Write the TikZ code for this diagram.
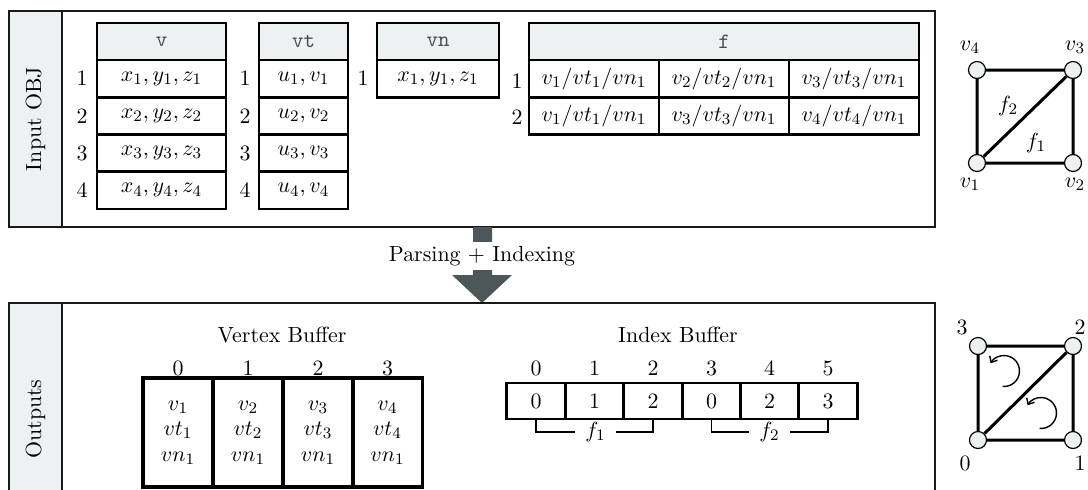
\documentclass[tikz,border=0pt]{standalone}
\usetikzlibrary{arrows.meta,calc}
\definecolor{hdrgray}{RGB}{238,241,242}
\definecolor{arrgray}{RGB}{77,86,88}
\newcommand\mainfs{\fontsize{10.95}{13}\selectfont}
\begin{document}
\begin{tikzpicture}[x=0.5pt,y=-0.5pt,
  every node/.style={font=\mainfs},
  panel/.style={draw=black!90, line width=1pt},
  side/.style={panel, fill=hdrgray},
  hdr/.style={draw, fill=hdrgray, line width=1.35pt, inner sep=0, minimum height=18.5pt, font=\mainfs\ttfamily, text=black!70},
  cell/.style={draw, line width=1.35pt, inner sep=0, minimum height=18.625pt},
  num/.style={inner sep=0},
  vb/.style={draw, line width=1.6pt, inner sep=0, minimum width=35pt, minimum height=54.5pt, align=center, font=\fontsize{10.95}{12.75}\selectfont},
  ib/.style={draw, line width=1.45pt, inner sep=0, minimum width=29.17pt, minimum height=18pt},
  mv/.style={circle, draw, fill=hdrgray, line width=0.6pt, minimum size=8.5pt, inner sep=0},
  medge/.style={line width=1.5pt},
  brk/.style={line width=0.8pt},
  rot/.style={line width=0.7pt, -{Straight Barb[length=2.5pt,width=4.5pt]}}
]
\clip (0,0) rectangle (1088,489);
% ---------- top panel ----------
\draw[side] (9,11) rectangle (62,227);
\draw[panel] (9,11) rectangle (935,227);
\node[rotate=90] (lblIn) at (35.5,119) {Input OBJ};
% headers
\node[hdr, minimum width=64.5pt] (vh) at (161.5,41.5) {v};
\node[hdr, minimum width=44.5pt] (vth) at (303.5,41.5) {vt};
\node[hdr, minimum width=61pt] (vnh) at (438,41.5) {vn};
\node[hdr, minimum width=195pt] (fh) at (724,41.5) {f};
\foreach \i/\y in {1/78.6,2/115.9,3/153.1,4/190.4} {
  \node[cell, minimum width=64.5pt] (v\i) at (161.5,\y) {$x_{\i},y_{\i},z_{\i}$};
  \node[num] (vnum\i) at (82,\y) {\i};
  \node[cell, minimum width=44.5pt] (vt\i) at (303.5,\y) {$u_{\i},v_{\i}$};
  \node[num] (vtnum\i) at (245,\y) {\i};
}
\node[cell, minimum width=61pt] (vn1) at (438,78.6) {$x_1,y_1,z_1$};
\node[num] (vnnum1) at (363,78.6) {1};
% f table
\node[cell, minimum width=65pt] (f11) at (594,78.6) {$v_1/vt_1/vn_1$};
\node[cell, minimum width=65pt] (f12) at (724,78.6) {$v_2/vt_2/vn_1$};
\node[cell, minimum width=65pt] (f13) at (854,78.6) {$v_3/vt_3/vn_1$};
\node[cell, minimum width=65pt] (f21) at (594,115.9) {$v_1/vt_1/vn_1$};
\node[cell, minimum width=65pt] (f22) at (724,115.9) {$v_3/vt_3/vn_1$};
\node[cell, minimum width=65pt] (f23) at (854,115.9) {$v_4/vt_4/vn_1$};
\node[num] (fnum1) at (517,81) {1};
\node[num] (fnum2) at (517,117) {2};
% top mesh
\node[mv] (m4) at (977,70) {};
\node[mv] (m3) at (1073,70) {};
\node[mv] (m1) at (977,163) {};
\node[mv] (m2) at (1073,163) {};
\draw[medge] (m1) -- (m2) -- (m3) -- (m4) -- (m1) -- (m3);
\node (lv4) at (970,47) {$v_4$};
\node (lv3) at (1075,47) {$v_3$};
\node (lv1) at (970,184) {$v_1$};
\node (lv2) at (1075,184) {$v_2$};
\node (lf2) at (1008,106) {$f_2$};
\node (lf1) at (1036,143) {$f_1$};
% ---------- arrow ----------
\fill[arrgray] (473,227) -- (492,227) -- (492,275) -- (512,275) -- (482,303) -- (452,275) -- (473,275) -- cycle;
\node[fill=white, inner xsep=2pt, inner ysep=1.75pt, text height=8pt, text depth=2.5pt] (parse) at (482,256) {Parsing $+$ Indexing};
% ---------- bottom panel ----------
\draw[side] (9,303) rectangle (62,535);
\draw[panel] (9,303) rectangle (935,535);
\node[rotate=90] (lblOut) at (35.5,419) {Outputs};
% vertex buffer
\node (vbt) at (282,335) {Vertex Buffer};
\foreach \i/\x in {0/178,1/248,2/318,3/387.5} {
  \node[num] (vbi\i) at (\x,368) {\i};
}
\node[vb] (vb0) at (178,432.5) {$v_1$\\$vt_1$\\$vn_1$};
\node[vb] (vb1) at (248,432.5) {$v_2$\\$vt_2$\\$vn_1$};
\node[vb] (vb2) at (318,432.5) {$v_3$\\$vt_3$\\$vn_1$};
\node[vb] (vb3) at (387.5,432.5) {$v_4$\\$vt_4$\\$vn_1$};
% index buffer
\node (ibt) at (678,335) {Index Buffer};
\foreach \i/\x/\v in {0/536/0,1/594.5/1,2/653/2,3/711.5/0,4/769.5/2,5/828/3} {
  \node[num] (ibi\i) at (\x,368) {\i};
  \node[ib] (ib\i) at (\x,401) {\v};
}
\node[inner xsep=4.75pt, inner ysep=0] (bf1) at (595.5,432) {$f_1$};
\node[inner xsep=4.75pt, inner ysep=0] (bf2) at (769.5,432) {$f_2$};
\draw[brk] (ib0.south) |- (bf1.west);
\draw[brk] (ib2.south) |- (bf1.east);
\draw[brk] (ib3.south) |- (bf2.west);
\draw[brk] (ib5.south) |- (bf2.east);
% bottom mesh
\node[mv] (n3) at (978,346) {};
\node[mv] (n2) at (1073,346) {};
\node[mv] (n0) at (978,440) {};
\node[mv] (n1) at (1073,440) {};
\draw[medge] (n0) -- (n1) -- (n2) -- (n3) -- (n0) -- (n2);
\node (ln3) at (962,327) {3};
\node (ln2) at (1080,327) {2};
\node (ln0) at (965,463) {0};
\node (ln1) at (1080,463) {1};
\coordinate (r1) at (1004,371);
\coordinate (r2) at (1041,413);
\draw[rot] ($(r1)+(-95:7.75pt)$) arc[start angle=-95, end angle=150, radius=7.75pt];
\draw[rot] ($(r2)+(-95:7.75pt)$) arc[start angle=-95, end angle=150, radius=7.75pt];
\end{tikzpicture}
\end{document}
